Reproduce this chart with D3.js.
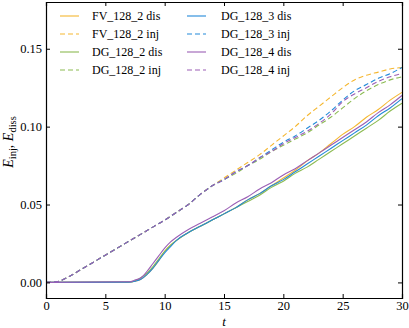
<!DOCTYPE html>
<html>
<head>
<meta charset="utf-8">
<script src="https://cdn.jsdelivr.net/npm/d3@7"></script>
<style>
  body { margin: 0; background: #fff; }
  svg text { font-family: "Liberation Serif", "DejaVu Serif", serif; }
</style>
</head>
<body>
<div id="chart"></div>
<script>
// time grids
var tInj = d3.range(0, 31);
var tDis = [0, 7, 7.5, 8, 8.5, 9, 9.5, 10, 10.5, 11, 12, 13, 14, 15, 16, 17, 18, 19, 20,
            21, 22, 23, 24, 25, 26, 27, 28, 29, 30];

// injected energy (dashed)
var fv2Inj = [0, 0.0006, 0.004, 0.0085, 0.013, 0.0175, 0.022, 0.0265, 0.031, 0.0355, 0.040,
              0.045, 0.050, 0.0565, 0.062, 0.067, 0.072, 0.077, 0.082, 0.088, 0.094,
              0.100, 0.107, 0.113, 0.119, 0.125, 0.130, 0.133, 0.135, 0.137, 0.138];
var dg2Inj = [0, 0.0006, 0.004, 0.0085, 0.013, 0.0175, 0.022, 0.0265, 0.031, 0.0355, 0.040,
              0.045, 0.050, 0.0565, 0.062, 0.066, 0.070, 0.075, 0.079, 0.084, 0.088,
              0.092, 0.096, 0.101, 0.106, 0.112, 0.118, 0.123, 0.127, 0.130, 0.132];
var dg3Inj = [0, 0.0006, 0.004, 0.0085, 0.013, 0.0175, 0.022, 0.0265, 0.031, 0.0355, 0.040,
              0.045, 0.050, 0.0565, 0.062, 0.066, 0.071, 0.075, 0.080, 0.085, 0.090,
              0.094, 0.099, 0.104, 0.110, 0.117, 0.123, 0.127, 0.131, 0.134, 0.138];
var dg4Inj = [0, 0.0006, 0.004, 0.0085, 0.013, 0.0175, 0.022, 0.0265, 0.031, 0.0355, 0.040,
              0.045, 0.050, 0.0565, 0.062, 0.066, 0.071, 0.075, 0.080, 0.084, 0.089,
              0.093, 0.097, 0.102, 0.108, 0.116, 0.121, 0.125, 0.129, 0.132, 0.134];

// dissipated energy (solid)
var fv2Dis = [0, 0.0002, 0.0008, 0.002, 0.005, 0.009, 0.014, 0.020, 0.024, 0.027, 0.032,
              0.036, 0.040, 0.044, 0.048, 0.053, 0.057, 0.062, 0.067, 0.072, 0.078,
              0.083, 0.089, 0.095, 0.100, 0.106, 0.111, 0.117, 0.122];
var dg2Dis = [0, 0.0003, 0.001, 0.003, 0.006, 0.010, 0.015, 0.020, 0.024, 0.027, 0.032,
              0.036, 0.040, 0.044, 0.048, 0.052, 0.056, 0.061, 0.065, 0.070, 0.074,
              0.079, 0.084, 0.089, 0.094, 0.099, 0.104, 0.110, 0.115];
var dg3Dis = [0, 0.0002, 0.0008, 0.002, 0.005, 0.009, 0.014, 0.019, 0.023, 0.027, 0.032,
              0.036, 0.040, 0.044, 0.048, 0.053, 0.057, 0.062, 0.066, 0.071, 0.076,
              0.081, 0.086, 0.091, 0.096, 0.101, 0.107, 0.112, 0.118];
var dg4Dis = [0, 0.0004, 0.0015, 0.003, 0.007, 0.012, 0.017, 0.022, 0.026, 0.029, 0.034,
              0.038, 0.042, 0.046, 0.051, 0.055, 0.060, 0.064, 0.069, 0.073, 0.078,
              0.083, 0.088, 0.093, 0.098, 0.103, 0.109, 0.114, 0.120];

var xTicks = [0, 5, 10, 15, 20, 25, 30];
var yTicks = [0, 0.05, 0.10, 0.15];

var series = [
  {name: "FV_128_2 dis", t: tDis, v: fv2Dis, color: "#f5b730", dash: null},
  {name: "FV_128_2 inj", t: tInj, v: fv2Inj, color: "#f5b730", dash: "5,3"},
  {name: "DG_128_2 dis", t: tDis, v: dg2Dis, color: "#8cbb52", dash: null},
  {name: "DG_128_2 inj", t: tInj, v: dg2Inj, color: "#8cbb52", dash: "5,3"},
  {name: "DG_128_3 dis", t: tDis, v: dg3Dis, color: "#2389d9", dash: null},
  {name: "DG_128_3 inj", t: tInj, v: dg3Inj, color: "#2389d9", dash: "5,3"},
  {name: "DG_128_4 dis", t: tDis, v: dg4Dis, color: "#9b5fb5", dash: null},
  {name: "DG_128_4 inj", t: tInj, v: dg4Inj, color: "#9b5fb5", dash: "5,3"}
];

var width = 409, height = 328,
    margin = {top: 2, right: 7, bottom: 30, left: 46};

var svg = d3.select("#chart").append("svg")
    .attr("width", width)
    .attr("height", height);

var x = d3.scaleLinear().domain([0, 30]).range([margin.left, width - margin.right]);
var y = d3.scaleLinear().domain([-0.01, 0.18]).range([height - margin.bottom, margin.top]);

// lines
var line = d3.line().curve(d3.curveMonotoneX);
var plot = svg.append("g");
series.forEach(function(s) {
  var pts = s.t.map(function(t, i) { return [x(t), y(s.v[i])]; });
  plot.append("path")
      .attr("d", line(pts))
      .attr("fill", "none")
      .attr("stroke", s.color)
      .attr("stroke-width", 1.1)
      .attr("stroke-dasharray", s.dash);
});

// axes, ticks pointing inward on all four sides
var fmtY = d3.format(".2f");
svg.append("g")
    .attr("transform", "translate(0," + y.range()[0] + ")")
    .call(d3.axisBottom(x).tickValues(xTicks).tickSize(-4).tickPadding(3).tickFormat(d3.format("d")));
svg.append("g")
    .attr("transform", "translate(0," + y.range()[1] + ")")
    .call(d3.axisTop(x).tickValues(xTicks).tickSize(-4).tickFormat(""));
svg.append("g")
    .attr("transform", "translate(" + x.range()[0] + ",0)")
    .call(d3.axisLeft(y).tickValues(yTicks).tickSize(-4).tickPadding(4).tickFormat(fmtY));
svg.append("g")
    .attr("transform", "translate(" + x.range()[1] + ",0)")
    .call(d3.axisRight(y).tickValues(yTicks).tickSize(-4).tickFormat(""));

svg.selectAll(".domain").attr("stroke", "#000").attr("stroke-width", 1.2);
svg.selectAll(".tick line").attr("stroke", "#000").attr("stroke-width", 1);
svg.selectAll(".tick text")
    .attr("fill", "#000")
    .style("font-family", "Liberation Serif, serif")
    .style("font-size", "12.5px");

// axis labels
svg.append("text")
    .attr("x", (x.range()[0] + x.range()[1]) / 2)
    .attr("y", 326)
    .attr("text-anchor", "middle")
    .style("font-size", "13px")
    .style("font-style", "italic")
    .text("t");

var yl = svg.append("text")
    .attr("transform", "translate(13," + ((y.range()[0] + y.range()[1]) / 2 - 8) + ") rotate(-90)")
    .attr("text-anchor", "middle")
    .style("font-size", "14px");
yl.append("tspan").style("font-style", "italic").text("E");
yl.append("tspan").attr("dy", 3).style("font-size", "10.5px").text("inj");
yl.append("tspan").attr("dy", -3).text(", ");
yl.append("tspan").style("font-style", "italic").text("E");
yl.append("tspan").attr("dy", 3).style("font-size", "10.5px").text("diss");

// legend, two columns without frame
var legCols = [{x0: 60, x1: 79, tx: 92}, {x0: 187, x1: 206, tx: 221}];
var legRows = [16, 34, 52, 70];
var leg = svg.append("g");
series.forEach(function(s, i) {
  var c = legCols[Math.floor(i / 4)], yy = legRows[i % 4];
  leg.append("line")
      .attr("x1", c.x0).attr("x2", c.x1)
      .attr("y1", yy).attr("y2", yy)
      .attr("stroke", s.color)
      .attr("stroke-width", 1.1)
      .attr("stroke-dasharray", s.dash);
  leg.append("text")
      .attr("x", c.tx).attr("y", yy + 4)
      .style("font-size", "12px")
      .text(s.name);
});
</script>
</body>
</html>
